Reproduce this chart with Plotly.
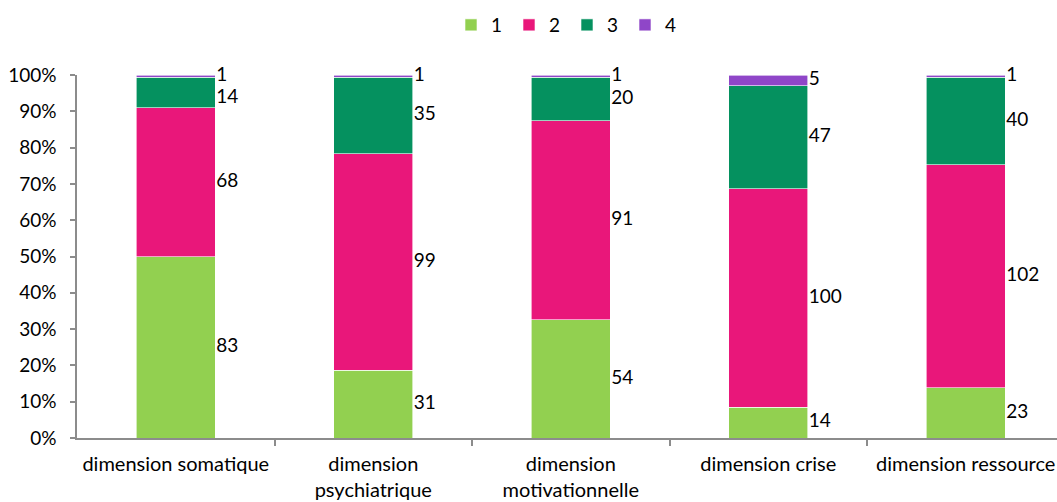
import plotly.graph_objects as go

categories = ["dimension somatique", "dimension<br>psychiatrique", "dimension<br>motivationnelle",
              "dimension crise", "dimension ressource"]
series_names = ["1", "2", "3", "4"]
s1 = [83, 31, 54, 14, 23]
s2 = [68, 99, 91, 100, 102]
s3 = [14, 35, 20, 47, 40]
s4 = [1, 1, 1, 5, 1]
colors = ["#92D050", "#E9177A", "#05915F", "#8F46C8"]
y_ticks = [0, 10, 20, 30, 40, 50, 60, 70, 80, 90, 100]

series = [s1, s2, s3, s4]
xs = list(range(len(categories)))
totals = [sum(v) for v in zip(*series)]
FONT = "Lato"
FS = 19

fig = go.Figure()
for name, vals, col in zip(series_names, series, colors):
    fig.add_trace(go.Bar(
        x=xs, y=[v / t * 100 for v, t in zip(vals, totals)], name=name,
        marker=dict(color=col, line=dict(color="white", width=0.6)),
        width=0.4, hoverinfo="skip"))

# labels to the right of each segment, at segment midpoints (with a minimal separation)
min_sep = 6.0
for i in xs:
    cum = 0
    mids = []
    for vals in series:
        p = vals[i] / totals[i] * 100
        mids.append(cum + p / 2)
        cum += p
    adj = mids[:]
    for k in range(len(adj) - 2, -1, -1):
        if adj[k + 1] - adj[k] < min_sep:
            adj[k] = adj[k + 1] - min_sep
    fig.add_trace(go.Scatter(
        x=[i + 0.205] * len(series), y=adj, mode="text",
        text=[str(vals[i]) for vals in series], textposition="middle right",
        textfont=dict(family=FONT, size=FS, color="#000"), cliponaxis=False,
        showlegend=False, hoverinfo="skip"))

fig.update_layout(
    barmode="stack", width=1057, height=502,
    margin=dict(l=77, r=0, t=75, b=64, autoexpand=False),
    paper_bgcolor="white", plot_bgcolor="white",
    font=dict(family=FONT, size=FS, color="#000"),
    legend=dict(orientation="h", x=0.5, xanchor="center", y=0.988, yref="container",
                yanchor="top", font=dict(size=FS), traceorder="normal",
                itemwidth=30, entrywidth=13, entrywidthmode="pixels", tracegroupgap=0),
    xaxis=dict(range=[-0.5, 4.462], tickvals=xs, ticktext=categories, ticks="",
               showgrid=False, zeroline=False, showline=True, linecolor="#8C8C8C", linewidth=1.5,
               tickfont=dict(size=20), ticklabelstandoff=7, automargin=False,
               minor=dict(tickvals=[0.5, 1.5, 2.5, 3.5], ticks="outside", ticklen=6,
                          tickcolor="#8C8C8C", tickwidth=1.5, showgrid=False)),
    yaxis=dict(range=[0, 100], tickvals=y_ticks, ticktext=[f"{v}%" for v in y_ticks],
               ticks="outside", ticklen=5, ticklabelstandoff=10, automargin=False,
               tickcolor="#8C8C8C", tickwidth=1.5, showgrid=False, zeroline=False,
               showline=True, linecolor="#8C8C8C", linewidth=1.5, tickfont=dict(size=FS)),
)

fig.write_html("out.html")
